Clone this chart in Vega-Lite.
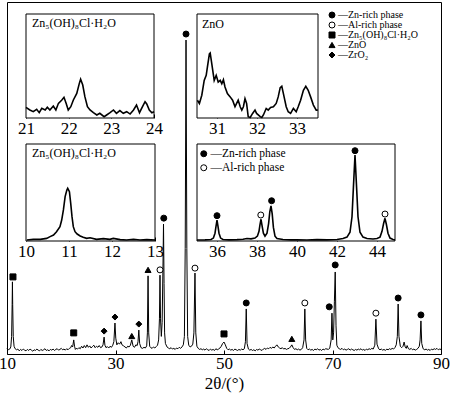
{
"$schema": "https://vega.github.io/schema/vega-lite/v6.json",
"width": 434, "height": 352,
"autosize": "none",
"padding": {"left": 7, "top": 2, "right": 9, "bottom": 45},
"config": {
  "font": "Liberation Serif",
  "view": {"stroke": "black", "strokeWidth": 1},
  "axis": {"labelFont": "Liberation Serif", "labelFontSize": 17, "labelColor": "black", "tickColor": "black", "tickSize": -4, "labelPadding": 6, "domain": false, "grid": false, "labelFlush": false, "labelOverlap": false, "labelBound": false, "titleFont": "Liberation Serif", "titleFontSize": 17, "titleFontWeight": "normal", "titleColor": "black"},
  "legend": {"labelFont": "Liberation Serif", "labelColor": "black", "symbolStrokeColor": "black", "symbolStrokeWidth": 1, "labelOffset": 1, "symbolSize": 36, "rowPadding": 0},
  "text": {"font": "Liberation Serif", "color": "black"}
},
"datasets": {
  "main": [
{"t":10.0,"i":1.6},{"t":10.25,"i":1.2},{"t":10.5,"i":1.4},{"t":10.7,"i":2.0},{"t":10.85,"i":5},{"t":10.95,"i":14},{"t":11.0,"i":20.5},{"t":11.05,"i":14},{"t":11.15,"i":5},{"t":11.3,"i":2.2},{"t":11.5,"i":1.5},{"t":11.75,"i":1.2},{"t":12.0,"i":1.4},{"t":12.25,"i":0.9},{"t":12.5,"i":1.3},{"t":12.75,"i":1.0},{"t":13.0,"i":1.4},{"t":13.25,"i":1.1},{"t":13.5,"i":0.9},{"t":13.75,"i":1.3},{"t":14.0,"i":1.0},{"t":14.25,"i":1.4},{"t":14.5,"i":1.1},{"t":14.75,"i":0.8},{"t":15.0,"i":1.2},{"t":15.25,"i":1.0},{"t":15.5,"i":1.4},{"t":15.75,"i":1.1},{"t":16.0,"i":0.9},{"t":16.25,"i":1.3},{"t":16.5,"i":1.0},{"t":16.75,"i":1.2},{"t":17.0,"i":1.5},{"t":17.25,"i":1.0},{"t":17.5,"i":1.2},{"t":17.75,"i":0.9},{"t":18.0,"i":1.3},{"t":18.25,"i":1.1},{"t":18.5,"i":1.4},{"t":18.75,"i":1.0},{"t":19.0,"i":1.3},{"t":19.25,"i":1.5},{"t":19.5,"i":1.1},{"t":19.75,"i":1.3},{"t":20.0,"i":1.6},{"t":20.25,"i":1.2},{"t":20.5,"i":1.4},{"t":20.75,"i":1.1},{"t":21.0,"i":1.5},{"t":21.25,"i":1.2},{"t":21.5,"i":1.6},{"t":21.75,"i":1.8},{"t":21.9,"i":2.4},{"t":22.1,"i":2.0},{"t":22.3,"i":4.0},{"t":22.45,"i":2.2},{"t":22.6,"i":1.3},{"t":22.75,"i":1.6},{"t":23.0,"i":1.4},{"t":23.25,"i":1.8},{"t":23.5,"i":1.5},{"t":23.75,"i":2.2},{"t":24.0,"i":1.7},{"t":24.25,"i":2.4},{"t":24.5,"i":1.8},{"t":24.75,"i":2.6},{"t":25.0,"i":1.9},{"t":25.25,"i":2.3},{"t":25.5,"i":1.7},{"t":25.75,"i":2.1},{"t":26.0,"i":2.5},{"t":26.25,"i":1.8},{"t":26.5,"i":2.2},{"t":26.75,"i":1.9},{"t":27.0,"i":2.4},{"t":27.25,"i":1.8},{"t":27.5,"i":2.0},{"t":27.7,"i":2.6},{"t":27.9,"i":4.8},{"t":28.05,"i":2.5},{"t":28.25,"i":1.8},{"t":28.5,"i":2.1},{"t":28.75,"i":1.7},{"t":29.0,"i":2.2},{"t":29.25,"i":1.9},{"t":29.5,"i":2.5},{"t":29.7,"i":3.5},{"t":29.9,"i":8.8},{"t":30.05,"i":4.5},{"t":30.25,"i":2.6},{"t":30.5,"i":3.2},{"t":30.75,"i":2.8},{"t":31.0,"i":3.5},{"t":31.2,"i":2.6},{"t":31.5,"i":2.3},{"t":31.75,"i":2.0},{"t":32.0,"i":1.7},{"t":32.25,"i":2.2},{"t":32.5,"i":2.0},{"t":32.75,"i":2.5},{"t":33.0,"i":4.0},{"t":33.25,"i":2.2},{"t":33.5,"i":1.9},{"t":33.75,"i":2.6},{"t":34.0,"i":2.4},{"t":34.15,"i":3.5},{"t":34.3,"i":6.8},{"t":34.45,"i":3.0},{"t":34.7,"i":1.8},{"t":35.0,"i":1.6},{"t":35.25,"i":1.9},{"t":35.5,"i":1.7},{"t":35.75,"i":2.3},{"t":35.88,"i":6},{"t":36.0,"i":22.2},{"t":36.12,"i":6},{"t":36.3,"i":2.2},{"t":36.5,"i":1.8},{"t":36.75,"i":1.6},{"t":37.0,"i":2.0},{"t":37.25,"i":1.7},{"t":37.5,"i":2.1},{"t":37.75,"i":2.5},{"t":37.95,"i":4.0},{"t":38.1,"i":10},{"t":38.2,"i":22.4},{"t":38.3,"i":10},{"t":38.45,"i":5},{"t":38.6,"i":9},{"t":38.75,"i":25},{"t":38.85,"i":36.9},{"t":38.95,"i":20},{"t":39.05,"i":6},{"t":39.2,"i":3.0},{"t":39.5,"i":2.0},{"t":39.75,"i":1.7},{"t":40.0,"i":1.5},{"t":40.25,"i":1.8},{"t":40.5,"i":1.4},{"t":40.75,"i":1.6},{"t":41.0,"i":1.3},{"t":41.25,"i":1.7},{"t":41.5,"i":1.5},{"t":41.75,"i":1.9},{"t":42.0,"i":1.6},{"t":42.25,"i":2.0},{"t":42.5,"i":2.6},{"t":42.7,"i":5},{"t":42.85,"i":30},{"t":43.0,"i":89.2},{"t":43.15,"i":30},{"t":43.3,"i":5},{"t":43.5,"i":2.5},{"t":43.75,"i":2.0},{"t":44.0,"i":2.2},{"t":44.25,"i":2.8},{"t":44.45,"i":6},{"t":44.65,"i":23.0},{"t":44.8,"i":6},{"t":45.0,"i":2.2},{"t":45.25,"i":1.6},{"t":45.5,"i":1.3},{"t":45.75,"i":1.5},{"t":46.0,"i":1.2},{"t":46.25,"i":1.4},{"t":46.5,"i":1.1},{"t":46.75,"i":1.5},{"t":47.0,"i":1.2},{"t":47.25,"i":1.0},{"t":47.5,"i":1.4},{"t":47.75,"i":1.1},{"t":48.0,"i":1.3},{"t":48.25,"i":1.0},{"t":48.5,"i":1.5},{"t":48.75,"i":1.2},{"t":49.0,"i":1.4},{"t":49.25,"i":1.7},{"t":49.5,"i":2.2},{"t":49.75,"i":3.0},{"t":50.0,"i":3.4},{"t":50.25,"i":2.6},{"t":50.5,"i":1.6},{"t":50.75,"i":1.2},{"t":51.0,"i":1.4},{"t":51.25,"i":1.1},{"t":51.5,"i":1.3},{"t":51.75,"i":1.0},{"t":52.0,"i":1.4},{"t":52.25,"i":1.2},{"t":52.5,"i":1.0},{"t":52.75,"i":1.3},{"t":53.0,"i":1.1},{"t":53.25,"i":1.4},{"t":53.5,"i":1.2},{"t":53.75,"i":1.5},{"t":53.95,"i":3.5},{"t":54.1,"i":12.8},{"t":54.25,"i":3.0},{"t":54.5,"i":1.4},{"t":54.75,"i":1.1},{"t":55.0,"i":1.3},{"t":55.25,"i":1.0},{"t":55.5,"i":1.2},{"t":55.75,"i":0.9},{"t":56.0,"i":1.3},{"t":56.25,"i":1.1},{"t":56.5,"i":1.4},{"t":56.75,"i":1.2},{"t":57.0,"i":1.0},{"t":57.25,"i":1.4},{"t":57.5,"i":1.6},{"t":57.75,"i":1.3},{"t":58.0,"i":1.7},{"t":58.25,"i":1.5},{"t":58.5,"i":1.9},{"t":58.75,"i":1.6},{"t":59.0,"i":2.0},{"t":59.25,"i":1.7},{"t":59.5,"i":2.2},{"t":59.75,"i":2.6},{"t":60.0,"i":2.0},{"t":60.25,"i":1.7},{"t":60.5,"i":1.5},{"t":60.75,"i":1.8},{"t":61.0,"i":1.4},{"t":61.25,"i":1.6},{"t":61.5,"i":1.3},{"t":61.75,"i":1.5},{"t":62.0,"i":1.6},{"t":62.25,"i":2.0},{"t":62.5,"i":2.6},{"t":62.75,"i":1.8},{"t":63.0,"i":1.3},{"t":63.25,"i":1.5},{"t":63.5,"i":1.2},{"t":63.75,"i":1.4},{"t":64.0,"i":1.1},{"t":64.25,"i":1.3},{"t":64.5,"i":1.8},{"t":64.75,"i":4},{"t":64.9,"i":12.8},{"t":65.05,"i":4},{"t":65.25,"i":1.6},{"t":65.5,"i":1.2},{"t":65.75,"i":1.4},{"t":66.0,"i":1.1},{"t":66.25,"i":1.3},{"t":66.5,"i":1.0},{"t":66.75,"i":1.4},{"t":67.0,"i":1.2},{"t":67.25,"i":1.5},{"t":67.5,"i":1.1},{"t":67.75,"i":1.3},{"t":68.0,"i":1.0},{"t":68.25,"i":1.4},{"t":68.5,"i":1.2},{"t":68.75,"i":1.5},{"t":69.0,"i":1.4},{"t":69.25,"i":1.3},{"t":69.5,"i":1.7},{"t":69.75,"i":4},{"t":69.9,"i":11.6},{"t":70.05,"i":4},{"t":70.2,"i":6},{"t":70.35,"i":15},{"t":70.5,"i":23.3},{"t":70.65,"i":8},{"t":70.8,"i":2.5},{"t":71.0,"i":1.8},{"t":71.25,"i":1.5},{"t":71.5,"i":1.3},{"t":71.75,"i":1.6},{"t":72.0,"i":1.2},{"t":72.25,"i":1.4},{"t":72.5,"i":1.1},{"t":72.75,"i":1.3},{"t":73.0,"i":1.5},{"t":73.25,"i":1.1},{"t":73.5,"i":1.4},{"t":73.75,"i":1.2},{"t":74.0,"i":1.0},{"t":74.25,"i":1.3},{"t":74.5,"i":1.1},{"t":74.75,"i":1.4},{"t":75.0,"i":1.2},{"t":75.25,"i":1.5},{"t":75.5,"i":1.1},{"t":75.75,"i":1.3},{"t":76.0,"i":1.0},{"t":76.25,"i":1.4},{"t":76.5,"i":1.2},{"t":76.75,"i":1.5},{"t":77.0,"i":1.3},{"t":77.25,"i":1.6},{"t":77.5,"i":1.4},{"t":77.8,"i":2.5},{"t":78.0,"i":9.9},{"t":78.2,"i":2.8},{"t":78.5,"i":1.5},{"t":78.75,"i":1.2},{"t":79.0,"i":1.4},{"t":79.25,"i":1.1},{"t":79.5,"i":1.3},{"t":79.75,"i":1.0},{"t":80.0,"i":1.4},{"t":80.25,"i":1.2},{"t":80.5,"i":1.5},{"t":80.75,"i":1.3},{"t":81.0,"i":1.6},{"t":81.25,"i":1.4},{"t":81.5,"i":1.8},{"t":81.75,"i":2.6},{"t":81.95,"i":5},{"t":82.1,"i":14.2},{"t":82.25,"i":5},{"t":82.5,"i":2.2},{"t":82.75,"i":1.8},{"t":83.0,"i":2.2},{"t":83.2,"i":3.4},{"t":83.4,"i":2.0},{"t":83.6,"i":1.6},{"t":83.75,"i":2.4},{"t":84.0,"i":1.5},{"t":84.25,"i":1.3},{"t":84.5,"i":1.6},{"t":84.75,"i":1.2},{"t":85.0,"i":1.4},{"t":85.25,"i":1.1},{"t":85.5,"i":1.3},{"t":85.75,"i":1.6},{"t":86.0,"i":2.2},{"t":86.15,"i":4},{"t":86.3,"i":9.4},{"t":86.45,"i":3},{"t":86.7,"i":1.5},{"t":87.0,"i":1.2},{"t":87.25,"i":1.4},{"t":87.5,"i":1.1},{"t":87.75,"i":1.3},{"t":88.0,"i":1.0},{"t":88.25,"i":1.4},{"t":88.5,"i":1.2},{"t":88.75,"i":1.5},{"t":89.0,"i":1.3},{"t":89.25,"i":1.6},{"t":89.5,"i":1.2},{"t":89.75,"i":1.4},{"t":90.0,"i":1.3}
  ],
  "mk": [
{"t":11.1,"i":21.9,"p":"Zn₅(OH)₈Cl·H₂O"},{"t":22.3,"i":6.0,"p":"Zn₅(OH)₈Cl·H₂O"},{"t":27.9,"i":6.5,"p":"ZrO₂"},{"t":29.9,"i":10.5,"p":"ZrO₂"},{"t":33.0,"i":5.1,"p":"ZnO"},{"t":34.3,"i":8.5,"p":"ZrO₂"},{"t":36.0,"i":23.9,"p":"ZnO"},{"t":38.2,"i":23.9,"p":"Al-rich phase"},{"t":38.9,"i":38.6,"p":"Zn-rich phase"},{"t":43.0,"i":90.9,"p":"Zn-rich phase"},{"t":44.65,"i":24.4,"p":"Al-rich phase"},{"t":50.0,"i":5.7,"p":"Zn₅(OH)₈Cl·H₂O"},{"t":54.1,"i":14.5,"p":"Zn-rich phase"},{"t":62.5,"i":4.3,"p":"ZnO"},{"t":64.9,"i":14.5,"p":"Al-rich phase"},{"t":69.4,"i":13.4,"p":"Zn-rich phase"},{"t":70.5,"i":25.3,"p":"Zn-rich phase"},{"t":78.0,"i":11.6,"p":"Al-rich phase"},{"t":82.1,"i":15.9,"p":"Zn-rich phase"},{"t":86.3,"i":11.1,"p":"Zn-rich phase"}
  ],
  "z1": [
{"t":21.00,"i":10.3},{"t":21.09,"i":7.7},{"t":21.17,"i":6.1},{"t":21.25,"i":8.3},{"t":21.31,"i":5.1},{"t":21.37,"i":9.3},{"t":21.45,"i":7.7},{"t":21.50,"i":10.3},{"t":21.56,"i":7.7},{"t":21.64,"i":11.5},{"t":21.70,"i":7.7},{"t":21.76,"i":14.1},{"t":21.84,"i":17.3},{"t":21.89,"i":19.9},{"t":21.94,"i":14.1},{"t":21.99,"i":7.7},{"t":22.05,"i":10.9},{"t":22.11,"i":17.3},{"t":22.19,"i":23.7},{"t":22.25,"i":33.3},{"t":22.28,"i":37.2},{"t":22.33,"i":31.7},{"t":22.38,"i":20.5},{"t":22.44,"i":10.9},{"t":22.50,"i":7.7},{"t":22.58,"i":5.1},{"t":22.66,"i":2.9},{"t":22.73,"i":4.5},{"t":22.83,"i":1.3},{"t":22.89,"i":2.9},{"t":22.97,"i":5.1},{"t":23.05,"i":7.7},{"t":23.12,"i":4.5},{"t":23.20,"i":7.1},{"t":23.28,"i":4.5},{"t":23.36,"i":6.1},{"t":23.44,"i":3.8},{"t":23.52,"i":7.7},{"t":23.59,"i":12.5},{"t":23.66,"i":5.1},{"t":23.71,"i":9.3},{"t":23.79,"i":15.7},{"t":23.83,"i":13.5},{"t":23.89,"i":7.7},{"t":23.95,"i":5.1},{"t":24.00,"i":6.1}
  ],
  "zno": [
{"t":30.51,"i":17.1},{"t":30.56,"i":14.0},{"t":30.62,"i":21.9},{"t":30.68,"i":36.2},{"t":30.73,"i":41.0},{"t":30.76,"i":48.9},{"t":30.81,"i":61.6},{"t":30.83,"i":62.5},{"t":30.87,"i":52.1},{"t":30.93,"i":36.2},{"t":30.98,"i":41.0},{"t":31.03,"i":34.6},{"t":31.08,"i":36.2},{"t":31.12,"i":33.0},{"t":31.16,"i":36.8},{"t":31.20,"i":29.8},{"t":31.26,"i":23.5},{"t":31.33,"i":20.3},{"t":31.39,"i":17.1},{"t":31.45,"i":10.8},{"t":31.49,"i":14.0},{"t":31.53,"i":17.1},{"t":31.58,"i":10.8},{"t":31.62,"i":7.6},{"t":31.66,"i":10.8},{"t":31.70,"i":18.7},{"t":31.74,"i":14.0},{"t":31.78,"i":1.3},{"t":31.83,"i":0.5},{"t":31.89,"i":4.4},{"t":31.95,"i":7.6},{"t":31.99,"i":4.4},{"t":32.08,"i":1.3},{"t":32.12,"i":0.5},{"t":32.16,"i":2.9},{"t":32.23,"i":9.2},{"t":32.28,"i":7.6},{"t":32.34,"i":10.2},{"t":32.41,"i":10.8},{"t":32.48,"i":14.0},{"t":32.53,"i":20.3},{"t":32.58,"i":29.2},{"t":32.62,"i":30.5},{"t":32.66,"i":23.5},{"t":32.73,"i":10.8},{"t":32.78,"i":6.0},{"t":32.84,"i":4.4},{"t":32.91,"i":9.2},{"t":32.98,"i":6.0},{"t":33.03,"i":10.8},{"t":33.09,"i":17.1},{"t":33.16,"i":26.7},{"t":33.22,"i":30.5},{"t":33.28,"i":26.7},{"t":33.34,"i":20.3},{"t":33.41,"i":12.4},{"t":33.48,"i":7.6},{"t":33.52,"i":7.6}
  ],
  "z2": [
{"t":10.02,"i":1.0},{"t":10.17,"i":1.7},{"t":10.33,"i":1.7},{"t":10.48,"i":2.7},{"t":10.56,"i":4.5},{"t":10.64,"i":6.2},{"t":10.71,"i":9.6},{"t":10.79,"i":14.8},{"t":10.83,"i":21.6},{"t":10.87,"i":32.0},{"t":10.91,"i":45.7},{"t":10.95,"i":52.6},{"t":10.97,"i":54.3},{"t":11.01,"i":50.9},{"t":11.04,"i":38.8},{"t":11.07,"i":25.1},{"t":11.10,"i":14.8},{"t":11.14,"i":9.6},{"t":11.19,"i":7.2},{"t":11.26,"i":5.2},{"t":11.33,"i":3.8},{"t":11.41,"i":2.7},{"t":11.49,"i":3.4},{"t":11.64,"i":1.7},{"t":11.80,"i":2.4},{"t":11.95,"i":1.7},{"t":12.03,"i":2.7},{"t":12.19,"i":1.4},{"t":12.34,"i":1.0},{"t":12.50,"i":1.7},{"t":12.65,"i":1.0},{"t":12.81,"i":1.4},{"t":13.00,"i":1.0}
  ],
  "zn": [
{"t":35.0,"i":1.0},{"t":35.4,"i":1.2},{"t":35.7,"i":1.5},{"t":35.82,"i":3},{"t":35.9,"i":8},{"t":35.95,"i":15},{"t":36.0,"i":21.6},{"t":36.05,"i":15},{"t":36.1,"i":8},{"t":36.18,"i":3},{"t":36.3,"i":1.5},{"t":36.6,"i":1.2},{"t":37.0,"i":1.4},{"t":37.3,"i":1.8},{"t":37.5,"i":2.5},{"t":37.7,"i":2.2},{"t":37.9,"i":3},{"t":38.02,"i":5},{"t":38.1,"i":10},{"t":38.15,"i":17},{"t":38.2,"i":22.4},{"t":38.25,"i":16},{"t":38.32,"i":8},{"t":38.4,"i":5},{"t":38.5,"i":8},{"t":38.58,"i":18},{"t":38.64,"i":30},{"t":38.7,"i":36.1},{"t":38.76,"i":28},{"t":38.82,"i":14},{"t":38.9,"i":5},{"t":39.0,"i":2.5},{"t":39.3,"i":1.5},{"t":39.7,"i":1.2},{"t":40.0,"i":1.3},{"t":40.5,"i":1.1},{"t":41.0,"i":1.4},{"t":41.5,"i":1.2},{"t":42.0,"i":1.5},{"t":42.3,"i":2.5},{"t":42.5,"i":4},{"t":42.65,"i":9},{"t":42.75,"i":25},{"t":42.82,"i":55},{"t":42.9,"i":88.7},{"t":42.98,"i":55},{"t":43.05,"i":25},{"t":43.15,"i":9},{"t":43.3,"i":4},{"t":43.5,"i":2.5},{"t":43.8,"i":2},{"t":44.0,"i":2.5},{"t":44.15,"i":4},{"t":44.25,"i":10},{"t":44.33,"i":18},{"t":44.4,"i":23.4},{"t":44.47,"i":17},{"t":44.55,"i":8},{"t":44.65,"i":3},{"t":44.8,"i":1.5},{"t":44.9,"i":1.2}
  ],
  "mk4": [
{"t":36.0,"i":26.1,"p":"Zn-rich phase"},{"t":38.19,"i":26.8,"p":"Al-rich phase"},{"t":38.73,"i":41.5,"p":"Zn-rich phase"},{"t":42.9,"i":93.1,"p":"Zn-rich phase"},{"t":44.4,"i":27.8,"p":"Al-rich phase"}
  ],
  "one": [{"k": 1}],
  "t1": [{"label": "Zn₅(OH)₈Cl·H₂O"}],
  "t2": [{"label": "ZnO"}]
},
"layer": [
  {"data": {"name": "main"},
   "mark": {"type": "line", "color": "black", "strokeWidth": 1},
   "encoding": {
     "x": {"field": "t", "type": "quantitative", "scale": {"domain": [10, 90], "nice": false, "zero": false}, "axis": {"values": [10, 30, 50, 70, 90], "title": "2θ/(°)", "orient": "bottom", "titlePadding": 4, "labelFont": "Liberation Serif", "titleFont": "Liberation Serif", "labelFontSize": 17, "titleFontSize": 17, "labelPadding": 5}},
     "y": {"field": "i", "type": "quantitative", "scale": {"domain": [0, 100], "nice": false, "zero": false}, "axis": null}}},
  {"data": {"name": "mk"},
   "mark": {"type": "point", "filled": true, "stroke": "black", "strokeWidth": 1, "size": 36, "opacity": 1},
   "encoding": {
     "x": {"field": "t", "type": "quantitative", "scale": {"domain": [10, 90], "nice": false, "zero": false}, "axis": null},
     "y": {"field": "i", "type": "quantitative", "scale": {"domain": [0, 100], "nice": false, "zero": false}, "axis": null},
     "shape": {"field": "p", "type": "nominal", "scale": {"domain": ["Zn-rich phase", "Al-rich phase", "Zn₅(OH)₈Cl·H₂O", "ZnO", "ZrO₂"], "range": ["circle", "circle", "square", "triangle-up", "diamond"]}, "legend": {"title": null, "orient": "none", "legendX": 320, "legendY": 8, "labelFontSize": 10, "labelExpr": "'—' + datum.label"}},
     "fill": {"field": "p", "type": "nominal", "scale": {"domain": ["Zn-rich phase", "Al-rich phase", "Zn₅(OH)₈Cl·H₂O", "ZnO", "ZrO₂"], "range": ["black", "white", "black", "black", "black"]}, "legend": {"title": null, "orient": "none", "legendX": 320, "legendY": 8, "labelFontSize": 10, "labelExpr": "'—' + datum.label"}},
     "stroke": {"field": "p", "type": "nominal", "scale": {"domain": ["Zn-rich phase", "Al-rich phase", "Zn₅(OH)₈Cl·H₂O", "ZnO", "ZrO₂"], "range": ["black", "black", "black", "black", "black"]}, "legend": {"title": null, "orient": "none", "legendX": 320, "legendY": 8, "labelFontSize": 10, "labelExpr": "'—' + datum.label"}}}},

  {"data": {"name": "one"},
   "mark": {"type": "rect", "fill": "white", "stroke": "black", "strokeWidth": 1},
   "encoding": {"x": {"datum": 21, "type": "quantitative", "scale": {"domain": [21, 24], "range": [19, 147], "nice": false, "zero": false}, "axis": null}, "x2": {"datum": 24}, "y": {"datum": 0, "type": "quantitative", "scale": {"domain": [0, 100], "range": [116, 12], "nice": false, "zero": false}, "axis": null}, "y2": {"datum": 100}}},
  {"data": {"name": "z1"},
   "mark": {"type": "line", "color": "black", "strokeWidth": 1.6},
   "encoding": {
     "x": {"field": "t", "type": "quantitative", "scale": {"domain": [21, 24], "range": [19, 147], "nice": false, "zero": false}, "axis": {"values": [21, 22, 23, 24], "title": null, "orient": "bottom", "offset": -236, "labelFont": "Liberation Serif", "labelFontSize": 17}},
     "y": {"field": "i", "type": "quantitative", "scale": {"domain": [0, 100], "range": [116, 12], "nice": false, "zero": false}, "axis": null}}},
  {"data": {"name": "t1"},
   "mark": {"type": "text", "align": "left", "baseline": "top", "fontSize": 12, "font": "Liberation Serif", "dx": 6, "dy": 4},
   "encoding": {"x": {"datum": 21, "type": "quantitative", "scale": {"domain": [21, 24], "range": [19, 147], "nice": false, "zero": false}, "axis": null}, "y": {"datum": 100, "type": "quantitative", "scale": {"domain": [0, 100], "range": [116, 12], "nice": false, "zero": false}, "axis": null}, "text": {"field": "label"}}},

  {"data": {"name": "one"},
   "mark": {"type": "rect", "fill": "white", "stroke": "black", "strokeWidth": 1},
   "encoding": {"x": {"datum": 30.5, "type": "quantitative", "scale": {"domain": [30.5, 33.525], "range": [190, 311], "nice": false, "zero": false}, "axis": null}, "x2": {"datum": 33.525}, "y": {"datum": 0, "type": "quantitative", "scale": {"domain": [0, 100], "range": [116, 12], "nice": false, "zero": false}, "axis": null}, "y2": {"datum": 100}}},
  {"data": {"name": "zno"},
   "mark": {"type": "line", "color": "black", "strokeWidth": 1.6},
   "encoding": {
     "x": {"field": "t", "type": "quantitative", "scale": {"domain": [30.5, 33.525], "range": [190, 311], "nice": false, "zero": false}, "axis": {"values": [31, 32, 33], "title": null, "orient": "bottom", "offset": -236, "labelFont": "Liberation Serif", "labelFontSize": 17}},
     "y": {"field": "i", "type": "quantitative", "scale": {"domain": [0, 100], "range": [116, 12], "nice": false, "zero": false}, "axis": null}}},
  {"data": {"name": "t2"},
   "mark": {"type": "text", "align": "left", "baseline": "top", "fontSize": 12, "font": "Liberation Serif", "dx": 5, "dy": 5},
   "encoding": {"x": {"datum": 30.5, "type": "quantitative", "scale": {"domain": [30.5, 33.525], "range": [190, 311], "nice": false, "zero": false}, "axis": null}, "y": {"datum": 100, "type": "quantitative", "scale": {"domain": [0, 100], "range": [116, 12], "nice": false, "zero": false}, "axis": null}, "text": {"field": "label"}}},

  {"data": {"name": "one"},
   "mark": {"type": "rect", "fill": "white", "stroke": "black", "strokeWidth": 1},
   "encoding": {"x": {"datum": 10, "type": "quantitative", "scale": {"domain": [10, 13], "range": [19, 148], "nice": false, "zero": false}, "axis": null}, "x2": {"datum": 13}, "y": {"datum": 0, "type": "quantitative", "scale": {"domain": [0, 100], "range": [239, 142], "nice": false, "zero": false}, "axis": null}, "y2": {"datum": 100}}},
  {"data": {"name": "z2"},
   "mark": {"type": "line", "color": "black", "strokeWidth": 1.6},
   "encoding": {
     "x": {"field": "t", "type": "quantitative", "scale": {"domain": [10, 13], "range": [19, 148], "nice": false, "zero": false}, "axis": {"values": [10, 11, 12, 13], "title": null, "orient": "bottom", "offset": -113, "labelFont": "Liberation Serif", "labelFontSize": 17}},
     "y": {"field": "i", "type": "quantitative", "scale": {"domain": [0, 100], "range": [239, 142], "nice": false, "zero": false}, "axis": null}}},
  {"data": {"name": "t1"},
   "mark": {"type": "text", "align": "left", "baseline": "top", "fontSize": 12, "font": "Liberation Serif", "dx": 6, "dy": 4},
   "encoding": {"x": {"datum": 10, "type": "quantitative", "scale": {"domain": [10, 13], "range": [19, 148], "nice": false, "zero": false}, "axis": null}, "y": {"datum": 100, "type": "quantitative", "scale": {"domain": [0, 100], "range": [239, 142], "nice": false, "zero": false}, "axis": null}, "text": {"field": "label"}}},

  {"data": {"name": "one"},
   "mark": {"type": "rect", "fill": "white", "stroke": "black", "strokeWidth": 1},
   "encoding": {"x": {"datum": 35, "type": "quantitative", "scale": {"domain": [35, 44.9], "range": [190, 388], "nice": false, "zero": false}, "axis": null}, "x2": {"datum": 44.9}, "y": {"datum": 0, "type": "quantitative", "scale": {"domain": [0, 100], "range": [239, 142], "nice": false, "zero": false}, "axis": null}, "y2": {"datum": 100}}},
  {"data": {"name": "zn"},
   "mark": {"type": "line", "color": "black", "strokeWidth": 1.6},
   "encoding": {
     "x": {"field": "t", "type": "quantitative", "scale": {"domain": [35, 44.9], "range": [190, 388], "nice": false, "zero": false}, "axis": {"values": [36, 38, 40, 42, 44], "title": null, "orient": "bottom", "offset": -113, "labelFont": "Liberation Serif", "labelFontSize": 17}},
     "y": {"field": "i", "type": "quantitative", "scale": {"domain": [0, 100], "range": [239, 142], "nice": false, "zero": false}, "axis": null}}},
  {"data": {"name": "mk4"},
   "mark": {"type": "point", "filled": true, "stroke": "black", "strokeWidth": 1, "size": 36, "opacity": 1},
   "encoding": {
     "x": {"field": "t", "type": "quantitative", "scale": {"domain": [35, 44.9], "range": [190, 388], "nice": false, "zero": false}, "axis": null},
     "y": {"field": "i", "type": "quantitative", "scale": {"domain": [0, 100], "range": [239, 142], "nice": false, "zero": false}, "axis": null},
     "shape": {"field": "p", "type": "nominal", "scale": {"domain": ["Zn-rich phase", "Al-rich phase"], "range": ["circle", "circle"]}, "legend": {"title": null, "orient": "none", "legendX": 191, "legendY": 146, "rowPadding": 1, "labelFontSize": 11.5, "labelExpr": "'—' + datum.label"}},
     "fill": {"field": "p", "type": "nominal", "scale": {"domain": ["Zn-rich phase", "Al-rich phase"], "range": ["black", "white"]}, "legend": {"title": null, "orient": "none", "legendX": 191, "legendY": 146, "rowPadding": 1, "labelFontSize": 11.5, "labelExpr": "'—' + datum.label"}},
     "stroke": {"field": "p", "type": "nominal", "scale": {"domain": ["Zn-rich phase", "Al-rich phase"], "range": ["black", "black"]}, "legend": {"title": null, "orient": "none", "legendX": 191, "legendY": 146, "rowPadding": 1, "labelFontSize": 11.5, "labelExpr": "'—' + datum.label"}}}}
],
"resolve": {"scale": {"x": "independent", "y": "independent", "shape": "independent", "fill": "independent", "stroke": "independent"}}
}
